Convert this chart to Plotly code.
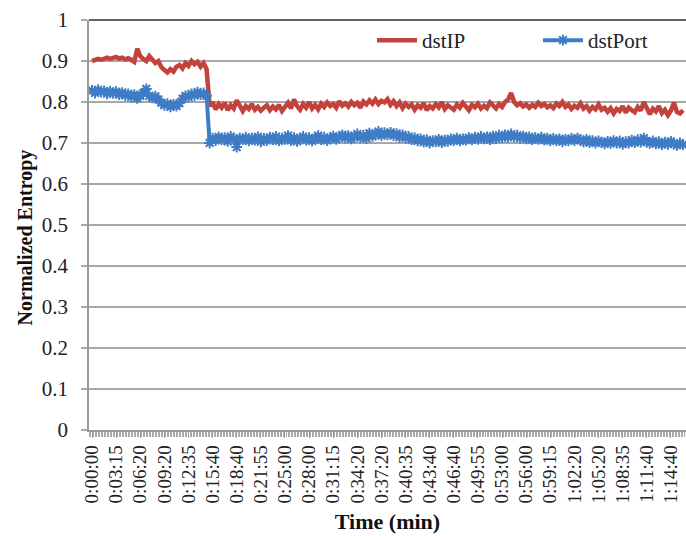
import plotly.graph_objects as go

# Time-axis labels (one every 8 samples)
time_labels = [
    "0:00:00", "0:03:15", "0:06:20", "0:09:20", "0:12:35", "0:15:40", "0:18:40",
    "0:21:55", "0:25:00", "0:28:00", "0:31:15", "0:34:20", "0:37:20", "0:40:35",
    "0:43:40", "0:46:40", "0:49:55", "0:53:00", "0:56:00", "0:59:15", "1:02:20",
    "1:05:20", "1:08:35", "1:11:40", "1:14:40",
]
samples_per_label = 8

# Normalized entropy of destination IPs
dst_ip = [
    0.900, 0.902, 0.905, 0.903, 0.906, 0.908, 0.905, 0.907, 0.910, 0.906,
    0.908, 0.904, 0.907, 0.903, 0.898, 0.930, 0.912, 0.905, 0.900, 0.912,
    0.905, 0.895, 0.900, 0.885, 0.878, 0.872, 0.880, 0.874, 0.886, 0.890,
    0.882, 0.895, 0.888, 0.900, 0.892, 0.898, 0.886, 0.895, 0.880, 0.790,
    0.800, 0.782, 0.795, 0.786, 0.798, 0.780, 0.792, 0.784, 0.804, 0.788,
    0.778, 0.790, 0.783, 0.795, 0.781, 0.788, 0.779, 0.786, 0.792, 0.780,
    0.789, 0.782, 0.793, 0.778, 0.787, 0.798, 0.784, 0.806, 0.790, 0.781,
    0.795, 0.786, 0.800, 0.784, 0.793, 0.782, 0.796, 0.788, 0.799, 0.790,
    0.795, 0.786, 0.802, 0.791, 0.797, 0.789, 0.800, 0.792, 0.798, 0.786,
    0.801, 0.794, 0.804, 0.796, 0.806, 0.795, 0.803, 0.799, 0.807, 0.793,
    0.802, 0.790, 0.799, 0.785, 0.796, 0.788, 0.794, 0.781, 0.792, 0.786,
    0.797, 0.780, 0.790, 0.784, 0.795, 0.787, 0.800, 0.783, 0.792, 0.788,
    0.781, 0.794, 0.786, 0.798, 0.789, 0.780, 0.793, 0.787, 0.796, 0.784,
    0.791, 0.785, 0.799, 0.790, 0.784, 0.795, 0.788, 0.800, 0.806, 0.822,
    0.800, 0.792, 0.797, 0.789, 0.794, 0.786, 0.793, 0.788, 0.798, 0.790,
    0.795, 0.787, 0.792, 0.785, 0.796, 0.790, 0.800, 0.788, 0.794, 0.783,
    0.791, 0.786, 0.797, 0.784, 0.790, 0.779, 0.788, 0.782, 0.794, 0.781,
    0.786, 0.776, 0.785, 0.772, 0.783, 0.778, 0.790, 0.774, 0.786, 0.780,
    0.775, 0.788, 0.779, 0.800, 0.782, 0.770, 0.784, 0.777, 0.790, 0.773,
    0.781, 0.768, 0.779, 0.798, 0.776, 0.772, 0.780,
]

# Normalized entropy of destination ports
dst_port = [
    0.828, 0.822, 0.830, 0.824, 0.827, 0.820, 0.826, 0.821, 0.825, 0.818,
    0.823, 0.816, 0.820, 0.812, 0.818, 0.809, 0.815, 0.822, 0.832, 0.815,
    0.810, 0.814, 0.806, 0.798, 0.792, 0.796, 0.788, 0.794, 0.790, 0.797,
    0.808, 0.815, 0.812, 0.820, 0.816, 0.824, 0.818, 0.822, 0.815, 0.700,
    0.712, 0.706, 0.715, 0.708, 0.713, 0.704, 0.716, 0.709, 0.690, 0.712,
    0.708, 0.714, 0.705, 0.712, 0.707, 0.715, 0.703, 0.711, 0.706, 0.714,
    0.708, 0.716, 0.705, 0.712, 0.709, 0.718, 0.706, 0.713, 0.704, 0.711,
    0.716, 0.707, 0.713, 0.705, 0.711, 0.718, 0.708, 0.714, 0.706, 0.712,
    0.717, 0.709, 0.714, 0.720, 0.712, 0.718, 0.710, 0.716, 0.722, 0.713,
    0.719, 0.711, 0.724, 0.716, 0.721, 0.728, 0.718, 0.725, 0.720, 0.726,
    0.718, 0.723, 0.714, 0.720, 0.712, 0.716, 0.708, 0.713, 0.705, 0.710,
    0.702, 0.708, 0.700, 0.706, 0.703, 0.709, 0.701, 0.707, 0.704, 0.710,
    0.706, 0.712, 0.705, 0.710, 0.707, 0.713, 0.708, 0.714, 0.709, 0.716,
    0.710, 0.715, 0.708, 0.717, 0.711, 0.719, 0.713, 0.720, 0.714, 0.722,
    0.715, 0.719, 0.712, 0.717, 0.710, 0.715, 0.708, 0.713, 0.709, 0.714,
    0.707, 0.712, 0.705, 0.711, 0.706, 0.710, 0.703, 0.709, 0.705, 0.711,
    0.706, 0.712, 0.707, 0.703, 0.709, 0.701, 0.706, 0.700, 0.705, 0.702,
    0.698, 0.704, 0.699, 0.706, 0.700, 0.705, 0.697, 0.703, 0.700, 0.707,
    0.701, 0.708, 0.702, 0.712, 0.703, 0.699, 0.705, 0.698, 0.703, 0.696,
    0.702, 0.697, 0.704, 0.698, 0.694, 0.700, 0.696,
]

RED = "#C3423B"
BLUE = "#3F7CC6"
GRID = "#a8a8a8"
AXIS = "#9a9a9a"
SERIF = "Liberation Serif, Times New Roman, serif"

x = list(range(len(dst_ip)))
tickvals = [i * samples_per_label for i in range(len(time_labels))]

fig = go.Figure()
fig.add_trace(go.Scatter(
    x=x, y=dst_ip, mode="lines", name="dstIP",
    line=dict(color=RED, width=4.5),
))
fig.add_trace(go.Scatter(
    x=x, y=dst_port, mode="lines+markers", name="dstPort",
    line=dict(color=BLUE, width=4),
    marker=dict(symbol="asterisk-open", size=9, color=BLUE,
                line=dict(width=2, color=BLUE)),
))

fig.update_layout(
    width=686, height=536,
    margin=dict(l=89, r=0, t=20, b=106, autoexpand=False),
    paper_bgcolor="white", plot_bgcolor="white",
    font=dict(family=SERIF, color="#222222"),
    legend=dict(
        orientation="h", x=0.474, y=0.95, xanchor="left", yanchor="middle",
        font=dict(size=21, family=SERIF, color="#222222"),
        bgcolor="rgba(0,0,0,0)", itemwidth=40, entrywidth=111,
    ),
    xaxis=dict(
        range=[-1, len(dst_ip)],
        tickmode="array", tickvals=tickvals, ticktext=time_labels,
        tickangle=-90, tickfont=dict(size=19, family=SERIF, color="#222222"),
        ticks="outside", ticklen=6, tickcolor=AXIS, tickwidth=1,
        showline=True, linecolor=AXIS, linewidth=1.5,
        showgrid=False, zeroline=False, automargin=False,
        minor=dict(dtick=0.5, tick0=0, ticks="outside", ticklen=5,
                   tickcolor="#aaaaaa", tickwidth=1, showgrid=False),
        title=dict(text="<b>Time (min)</b>",
                   font=dict(size=22, family=SERIF, color="#111111"),
                   standoff=11),
    ),
    yaxis=dict(
        range=[0, 1], dtick=0.1, tick0=0,
        tickfont=dict(size=21, family=SERIF, color="#222222"),
        ticks="outside", ticklen=6, tickcolor=GRID, tickwidth=1.5,
        ticklabelstandoff=9, automargin=False,
        showline=True, linecolor=AXIS, linewidth=1.5,
        showgrid=True, gridcolor=GRID, gridwidth=1.5, zeroline=False,
    ),
    shapes=[dict(type="line", xref="paper", yref="paper", x0=0, x1=1, y0=1, y1=1,
                 line=dict(color="#666666", width=2))],
    annotations=[dict(
        text="<b>Normalized Entropy</b>", textangle=-90,
        xref="paper", yref="paper", x=-0.107, y=0.47,
        xanchor="center", yanchor="middle", showarrow=False,
        font=dict(size=20, family=SERIF, color="#111111"),
    )],
)

fig.write_html("out.html")
